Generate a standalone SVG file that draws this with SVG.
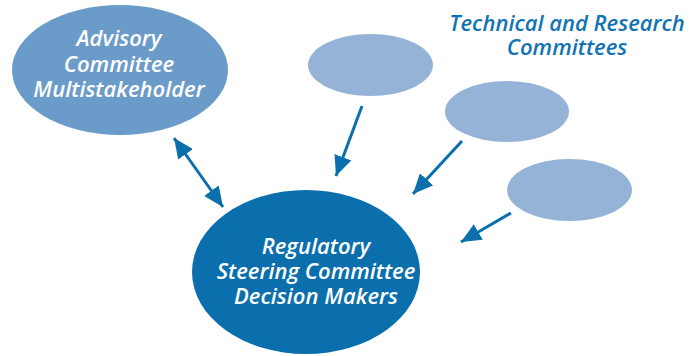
<svg xmlns="http://www.w3.org/2000/svg" width="700" height="356" viewBox="0 0 700 356">
  <defs>
    <style>
      .lbl { font-family: "Open Sans", "Liberation Sans", sans-serif; font-style: italic; font-weight: 600; text-anchor: middle; font-size: 22px; }
      .white { fill: #ffffff; }
      .title { fill: #1273b4; }
      .small { fill: #95b3d7; }
      .link { stroke: #0a6fac; stroke-width: 3; fill: none; }
    </style>
    <marker id="head" markerUnits="userSpaceOnUse" markerWidth="22" markerHeight="18" refX="20" refY="9" orient="auto-start-reverse">
      <path d="M0,0 L20,9 L0,18 Z" fill="#0a6fac"/>
    </marker>
  </defs>
  <rect width="700" height="356" fill="#ffffff"/>

  <g id="advisory">
    <ellipse cx="120" cy="70" rx="108" ry="65" fill="#6b9bc8"/>
    <text class="lbl white" x="119" y="46">Advisory</text>
    <text class="lbl white" x="119" y="72">Committee</text>
    <text class="lbl white" x="119" y="97">Multistakeholder</text>
  </g>

  <g id="technical-title">
    <text class="lbl title" x="567" y="31">Technical and Research</text>
    <text class="lbl title" x="567" y="55">Committees</text>
  </g>

  <g id="committee-1">
    <ellipse class="small" cx="370.5" cy="65" rx="62.5" ry="31"/>
  </g>
  <g id="committee-2">
    <ellipse class="small" cx="507" cy="111.5" rx="62" ry="30.5"/>
  </g>
  <g id="committee-3">
    <ellipse class="small" cx="569.5" cy="190" rx="62.5" ry="31"/>
  </g>

  <g id="steering">
    <ellipse cx="306" cy="272" rx="114" ry="82" fill="#0a6fac"/>
    <text class="lbl white" x="316" y="254">Regulatory</text>
    <text class="lbl white" x="316" y="279">Steering Committee</text>
    <text class="lbl white" x="316" y="304">Decision Makers</text>
  </g>

  <g id="connectors">
    <line class="link" x1="174" y1="138" x2="223" y2="207" marker-start="url(#head)" marker-end="url(#head)"/>
    <line class="link" x1="362" y1="106" x2="336" y2="176" marker-end="url(#head)"/>
    <line class="link" x1="462" y1="141" x2="413" y2="194" marker-end="url(#head)"/>
    <line class="link" x1="511" y1="213" x2="461" y2="242" marker-end="url(#head)"/>
  </g>
</svg>
